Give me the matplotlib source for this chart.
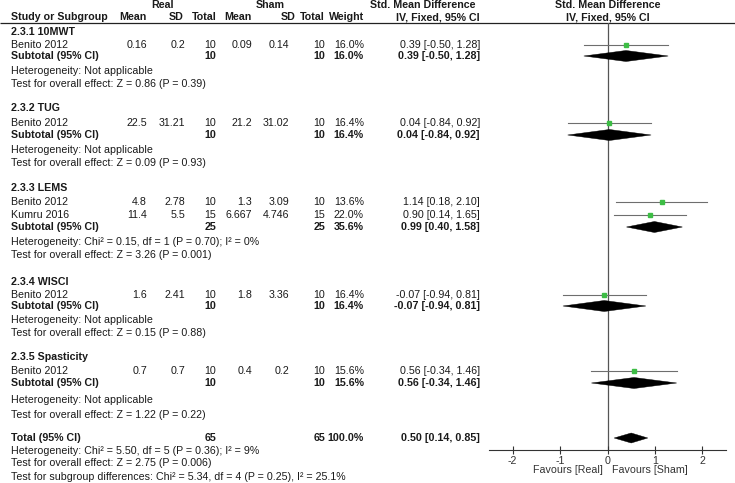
import matplotlib
matplotlib.use("Agg")
import matplotlib.pyplot as plt
from matplotlib.patches import Polygon

plt.rcParams['font.family'] = ['Liberation Sans', 'DejaVu Sans']

# ---------------- data ----------------
subgroups = ["2.3.1 10MWT", "2.3.2 TUG", "2.3.3 LEMS", "2.3.4 WISCI", "2.3.5 Spasticity"]

study_group = [0, 1, 2, 2, 3, 4]
study_name = ["Benito 2012", "Benito 2012", "Benito 2012", "Kumru 2016", "Benito 2012", "Benito 2012"]
real_mean = [0.16, 22.5, 4.8, 11.4, 1.6, 0.7]
real_sd = [0.2, 31.21, 2.78, 5.5, 2.41, 0.7]
real_n = [10, 10, 10, 15, 10, 10]
sham_mean = [0.09, 21.2, 1.3, 6.667, 1.8, 0.4]
sham_sd = [0.14, 31.02, 3.09, 4.746, 3.36, 0.2]
sham_n = [10, 10, 10, 15, 10, 10]
weight = [16.0, 16.4, 13.6, 22.0, 16.4, 15.6]
smd = [0.39, 0.04, 1.14, 0.90, -0.07, 0.56]
smd_lo = [-0.50, -0.84, 0.18, 0.14, -0.94, -0.34]
smd_hi = [1.28, 0.92, 2.10, 1.65, 0.81, 1.46]

sub_real_n = [10, 10, 25, 10, 10]
sub_sham_n = [10, 10, 25, 10, 10]
sub_weight = [16.0, 16.4, 35.6, 16.4, 15.6]
sub_smd = [0.39, 0.04, 0.99, -0.07, 0.56]
sub_lo = [-0.50, -0.84, 0.40, -0.94, -0.34]
sub_hi = [1.28, 0.92, 1.58, 0.81, 1.46]
sub_het = ["Heterogeneity: Not applicable",
           "Heterogeneity: Not applicable",
           "Heterogeneity: Chi² = 0.15, df = 1 (P = 0.70); I² = 0%",
           "Heterogeneity: Not applicable",
           "Heterogeneity: Not applicable"]
sub_test = ["Test for overall effect: Z = 0.86 (P = 0.39)",
            "Test for overall effect: Z = 0.09 (P = 0.93)",
            "Test for overall effect: Z = 3.26 (P = 0.001)",
            "Test for overall effect: Z = 0.15 (P = 0.88)",
            "Test for overall effect: Z = 1.22 (P = 0.22)"]

total_real_n = 65
total_sham_n = 65
total_weight = 100.0
total_smd = 0.50
total_lo = 0.14
total_hi = 0.85
footer = ["Heterogeneity: Chi² = 5.50, df = 5 (P = 0.36); I² = 9%",
          "Test for overall effect: Z = 2.75 (P = 0.006)",
          "Test for subgroup differences: Chi² = 5.34, df = 4 (P = 0.25), I² = 25.1%"]

xticks = [-2, -1, 0, 1, 2]
favours_left = "Favours [Real]"
favours_right = "Favours [Sham]"

# ---------------- layout (pixel rows, from top) ----------------
W, H = 735, 483
group_rows = [
    [32, 45, 56, 71, 84],
    [108, 123, 135, 150, 163],
    [188, 202, 215, 227, 242, 255],
    [282, 295, 306, 320, 333],
    [357, 371, 383, 400, 415],
]
total_rows = [438, 451, 463, 477]

X_LEFT = 11
X_RMEAN, X_RSD, X_RN = 147, 185, 216
X_SMEAN, X_SSD, X_SN = 252, 289, 325
X_W = 364
X_CI = 480
FS = 7.7
TXT = '#1a1a1a'

fig = plt.figure(figsize=(W / 100, H / 100), dpi=100)
ax0 = fig.add_axes([0, 0, 1, 1])
ax0.set_xlim(0, W)
ax0.set_ylim(H, 0)
ax0.axis('off')


def t(x, y, s, ha='left', bold=False, color=TXT):
    ax0.text(x, y, s, ha=ha, va='center', fontsize=FS,
             fontweight='bold' if bold else 'normal', color=color)


def fmt(v):
    return f"{v:g}"


def ci(e, l, h):
    return f"{e:.2f} [{l:.2f}, {h:.2f}]"


# header
t(163, 5, "Real", ha='center', bold=True)
t(270, 5, "Sham", ha='center', bold=True)
t(476, 5, "Std. Mean Difference", ha='right', bold=True)
t(X_LEFT, 17, "Study or Subgroup", bold=True)
t(X_RMEAN, 17, "Mean", ha='right', bold=True)
t(184, 17, "SD", ha='right', bold=True)
t(217, 17, "Total", ha='right', bold=True)
t(X_SMEAN, 17, "Mean", ha='right', bold=True)
t(296, 17, "SD", ha='right', bold=True)
t(X_SN, 17, "Total", ha='right', bold=True)
t(X_W, 17, "Weight", ha='right', bold=True)
t(X_CI, 17, "IV, Fixed, 95% CI", ha='right', bold=True)
ax0.plot([0, W], [23, 23], color='#222222', lw=0.9, solid_capstyle='butt')

# forest axes: y data in pixel rows
fax = fig.add_axes([489 / W, (H - 450) / H, 237 / W, (450 - 23) / H])
fax.set_xlim(-2.5, 2.5)
fax.set_ylim(450, 23)
fax.patch.set_alpha(0)
for s in ['top', 'left', 'right']:
    fax.spines[s].set_visible(False)
fax.spines['bottom'].set_color('#333333')
fax.spines['bottom'].set_linewidth(0.8)
fax.set_yticks([])
fax.set_xticks(xticks)
fax.set_xticklabels([str(v) for v in xticks])
fax.tick_params(axis='x', direction='inout', length=6, width=0.8, colors='#333333',
                labelsize=FS, pad=1)
fax.axvline(0, color='#555555', lw=0.9, zorder=1)

t(603, 470, favours_left, ha='right', color='#333333')
t(612, 470, favours_right, ha='left', color='#333333')
t(607.5, 5, "Std. Mean Difference", ha='center', bold=True)
t(607.5, 17, "IV, Fixed, 95% CI", ha='center', bold=True)


def diamond(e, l, h, y, hh=5.5):
    fax.add_patch(Polygon([(l, y), (e, y - hh), (h, y), (e, y + hh)], closed=True,
                          facecolor='black', edgecolor='black', lw=0.3, zorder=3))


for g, name in enumerate(subgroups):
    rows = group_rows[g]
    t(X_LEFT, rows[0], name, bold=True)
    idx = [i for i, sg in enumerate(study_group) if sg == g]
    for k, i in enumerate(idx):
        y = rows[1 + k]
        t(X_LEFT, y, study_name[i])
        t(X_RMEAN, y, fmt(real_mean[i]), ha='right')
        t(X_RSD, y, fmt(real_sd[i]), ha='right')
        t(X_RN, y, str(real_n[i]), ha='right')
        t(X_SMEAN, y, fmt(sham_mean[i]), ha='right')
        t(X_SSD, y, fmt(sham_sd[i]), ha='right')
        t(X_SN, y, str(sham_n[i]), ha='right')
        t(X_W, y, f"{weight[i]:.1f}%", ha='right')
        t(X_CI, y, ci(smd[i], smd_lo[i], smd_hi[i]), ha='right')
        fax.plot([smd_lo[i], smd_hi[i]], [y, y], color='#6e6e6e', lw=0.8, zorder=2)
        side_px = 1.05 * weight[i] ** 0.5
        fax.plot([smd[i]], [y], marker='s', ms=side_px * 0.72, color='#3dbd45',
                 mec='#3dbd45', lw=0, zorder=4)
    ys = rows[1 + len(idx)]
    t(X_LEFT, ys, "Subtotal (95% CI)", bold=True)
    t(X_RN, ys, str(sub_real_n[g]), ha='right', bold=True)
    t(X_SN, ys, str(sub_sham_n[g]), ha='right', bold=True)
    t(X_W, ys, f"{sub_weight[g]:.1f}%", ha='right', bold=True)
    t(X_CI, ys, ci(sub_smd[g], sub_lo[g], sub_hi[g]), ha='right', bold=True)
    diamond(sub_smd[g], sub_lo[g], sub_hi[g], ys)
    t(X_LEFT, rows[2 + len(idx)], sub_het[g])
    t(X_LEFT, rows[3 + len(idx)], sub_test[g])

# total
yt = total_rows[0]
t(X_LEFT, yt, "Total (95% CI)", bold=True)
t(X_RN, yt, str(total_real_n), ha='right', bold=True)
t(X_SN, yt, str(total_sham_n), ha='right', bold=True)
t(X_W, yt, f"{total_weight:.1f}%", ha='right', bold=True)
t(X_CI, yt, ci(total_smd, total_lo, total_hi), ha='right', bold=True)
diamond(total_smd, total_lo, total_hi, yt, hh=5)
for k, s in enumerate(footer):
    t(X_LEFT, total_rows[1 + k], s)

fig.savefig("out.png", dpi=100)
